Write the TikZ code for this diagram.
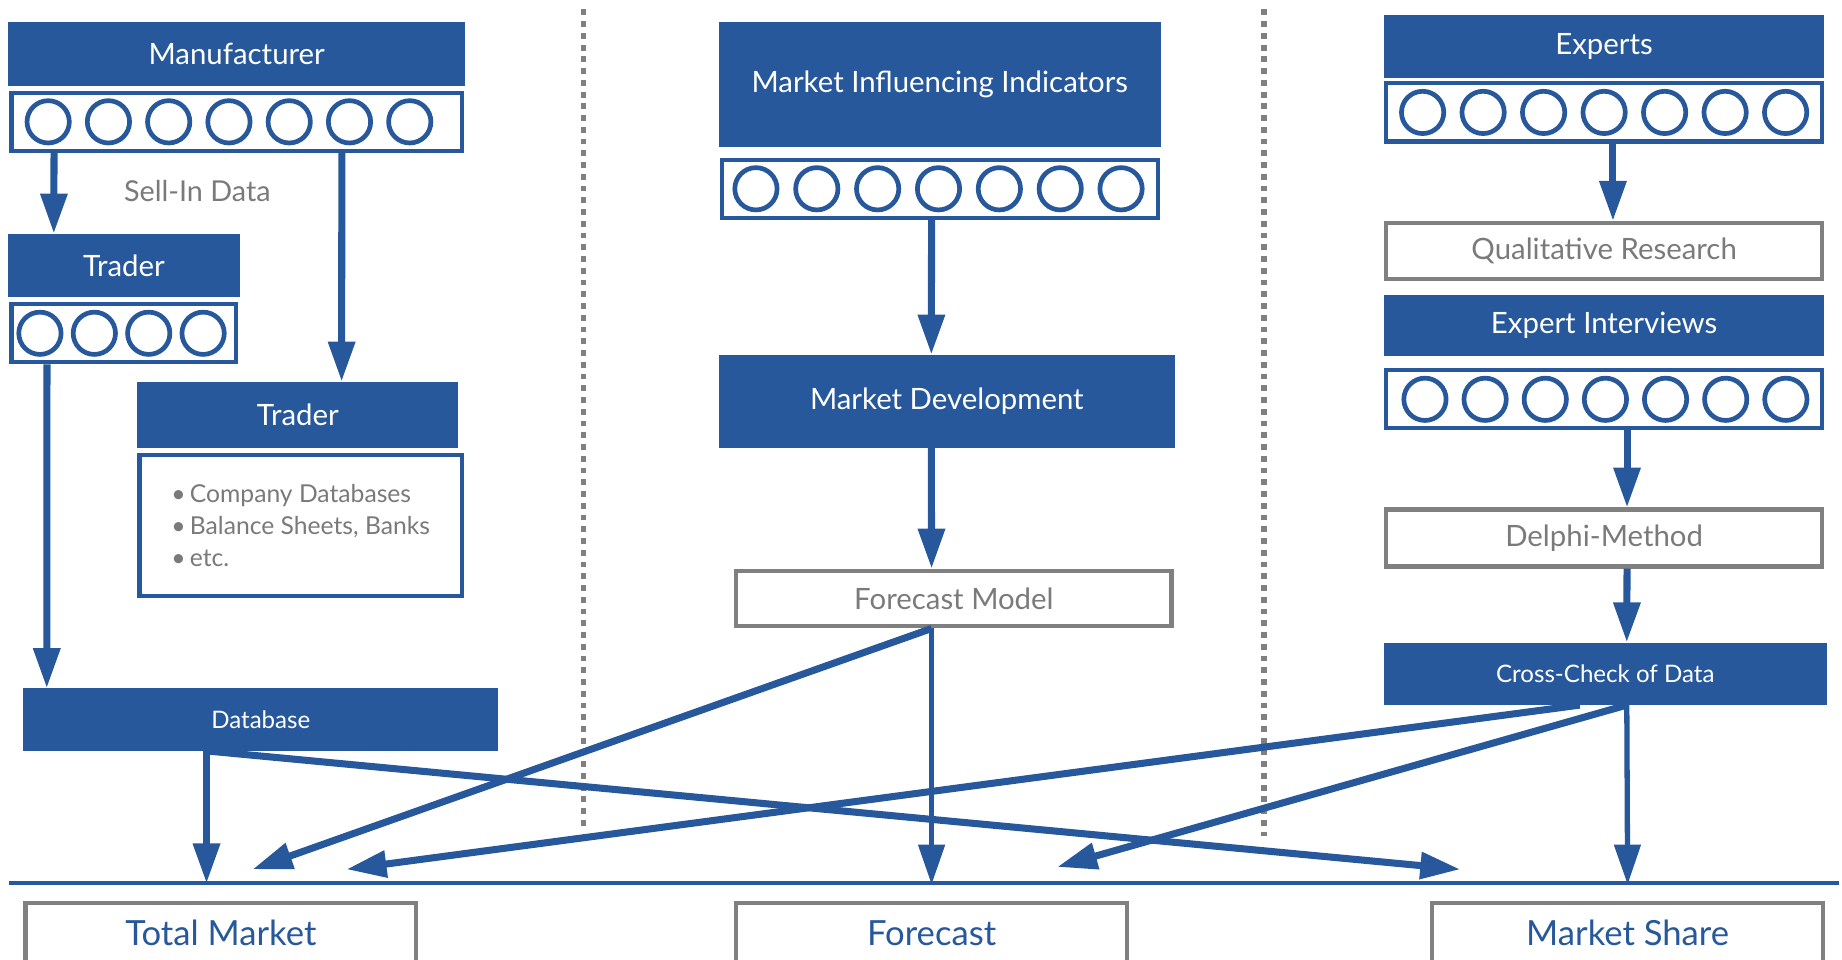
\documentclass[tikz,border=0pt]{standalone}
\usepackage{fontspec}
\setmainfont{Lato}
\usepackage{tikz}
\usetikzlibrary{arrows.meta,positioning}
\definecolor{marketblue}{HTML}{27589B}
\definecolor{framegray}{HTML}{808080}
\definecolor{textgray}{HTML}{7A7A7A}
\tikzstyle{headbox} = [rectangle, fill=marketblue, text=white, inner sep=0pt, font=\fontsize{25}{29}\selectfont]
\tikzstyle{smallhead} = [headbox, font=\fontsize{20.5}{24}\selectfont]
\tikzstyle{strip} = [rectangle, draw=marketblue, line width=3.5pt, fill=white, inner sep=0pt, minimum height=49.5pt]
\tikzstyle{greybox} = [rectangle, draw=framegray, line width=3.5pt, text=textgray, inner sep=0pt, font=\fontsize{25}{29}\selectfont]
\tikzstyle{resultbox} = [greybox, text=marketblue, font=\fontsize{29.5}{34}\selectfont, minimum width=332.5pt, minimum height=50.5pt]
\tikzstyle{ring} = [draw=marketblue, line width=4pt]
\tikzstyle{connector} = [draw=marketblue, line width=6pt, -{Triangle[length=34pt,width=22pt]}]
\tikzstyle{thinconnector} = [connector, line width=4.5pt]
\tikzstyle{divider} = [draw=framegray, line width=4.5pt, dash pattern=on 5pt off 5pt]

\begin{document}
\begin{tikzpicture}[x=1pt, y=-1pt]
        \useasboundingbox (0,0) rectangle (1568,816.4);
        \node (manufacturer) [headbox, minimum width=389pt, minimum height=54pt] at (201.5,46) {Manufacturer};
        \node (manu-strip) [strip, below=4pt of manufacturer, minimum width=383.5pt] {};
        \node (sell-in) [text=textgray, font=\fontsize{24.5}{28}\selectfont] at (168,163) {Sell-In Data};
        \node (trader-a) [headbox, minimum width=197pt, minimum height=54pt] at (105.5,226) {Trader};
        \node (trader-a-strip) [strip, below=4pt of trader-a, minimum width=191.5pt] {};
        \node (trader-b) [headbox, minimum width=273pt, minimum height=56pt] at (253.5,353) {Trader};
        \node (sources) [strip, below=4pt of trader-b, xshift=2.5pt, minimum width=274.5pt, minimum height=120.5pt, text=textgray, align=left, font=\fontsize{21}{27.5}\selectfont] {\textbullet\,Company Databases\\\textbullet\,Balance Sheets, Banks\\\textbullet\,etc.};
        \node (database) [smallhead, minimum width=404pt, minimum height=53pt] at (222,612.5) {Database};
        \node (indicators) [headbox, minimum width=376pt, minimum height=106pt] at (800,72) {Market Influencing Indicators};
        \node (ind-strip) [strip, below=9pt of indicators, minimum width=371.5pt] {};
        \node (development) [headbox, minimum width=388pt, minimum height=79pt] at (806,341.5) {Market Development};
        \node (model) [greybox, minimum width=370.5pt, minimum height=47.5pt] at (812,509.5) {Forecast Model};
        \node (experts) [headbox, minimum width=375pt, minimum height=53pt] at (1365.5,39.5) {Experts};
        \node (exp-strip) [strip, below=3pt of experts, minimum width=371.5pt] {};
        \node (research) [greybox, minimum width=371.5pt, minimum height=47.5pt] at (1365.5,213.5) {Qualitative Research};
        \node (interviews) [headbox, below=12pt of research, minimum width=375pt, minimum height=52pt] {Expert Interviews};
        \node (int-strip) [strip, below=10pt of interviews, minimum width=371.5pt] {};
        \node (delphi) [greybox, minimum width=371.5pt, minimum height=48.5pt] at (1365.5,458) {Delphi-Method};
        \node (crosscheck) [smallhead, minimum width=377pt, minimum height=53pt] at (1366.5,573.5) {Cross-Check of Data};
        \node (total) [resultbox] at (188,794) {Total Market};
        \node (forecast) [resultbox] at (793,794) {Forecast};
        \node (share) [resultbox] at (1385.5,794) {Market Share};
        \foreach \i in {0,...,6} \draw [ring] ([xshift={33pt+\i*51.3pt}]manu-strip.west) circle (18pt);
        \foreach \i in {0,...,3} \draw [ring] ([xshift={26pt+\i*46.3pt}]trader-a-strip.west) circle (18pt);
        \foreach \i in {0,...,6} \draw [ring] ([xshift={31pt+\i*51.8pt}]ind-strip.west) circle (18pt);
        \foreach \i in {0,...,6} \draw [ring] ([xshift={33pt+\i*51.5pt}]exp-strip.west) circle (18pt);
        \foreach \i in {0,...,6} \draw [ring] ([xshift={35pt+\i*51.2pt}]int-strip.west) circle (18pt);
        \coordinate (base-l) at (8,752);
        \coordinate (base-r) at (1565,752);
        \coordinate (db-out) at ([xshift=156pt]database.south west);
        \coordinate (model-out) at ([xshift=168pt]model.south west);
        \coordinate (cc-out) at ([xshift=207pt]crosscheck.south west);
        \coordinate (cc-out-b) at ([xshift=167pt]crosscheck.south west);
        \coordinate (tm-in-a) at (215,740);
        \coordinate (tm-in-b) at (295,740);
        \coordinate (fc-in) at (900,738);
        \coordinate (ms-in) at (1243,740);
        \draw [divider] (497,8) -- (497,705);
        \draw [divider] (1076,8) -- (1076,712);
        \draw [draw=marketblue, line width=3.5pt] (base-l) -- (base-r);
        \draw [connector] ([xshift=38pt]manu-strip.south west) -- ([xshift=39pt]trader-a.north west);
        \draw [connector] ([xshift=283pt]manu-strip.south west) -- ([xshift=174pt]trader-b.north west);
        \draw [connector] ([xshift=32pt]trader-a-strip.south west) -- ([xshift=20pt]database.north west);
        \draw [connector] (db-out) -- (db-out |- base-l);
        \draw [connector] (db-out) -- (ms-in);
        \draw [connector] ([xshift=180.5pt]ind-strip.south west) -- ([xshift=181pt]development.north west);
        \draw [connector] ([xshift=181pt]development.south west) -- ([xshift=168pt]model.north west);
        \draw [thinconnector] (model-out) -- ([yshift=14pt]forecast.north);
        \draw [connector] (model-out) -- (tm-in-a);
        \draw [connector] ([xshift=195pt]exp-strip.south west) -- ([xshift=195pt]research.north west);
        \draw [connector] ([xshift=207pt]int-strip.south west) -- ([xshift=207pt]delphi.north west);
        \draw [connector] ([xshift=207pt]delphi.south west) -- (cc-out |- crosscheck.north);
        \draw [thinconnector] (cc-out) -- ([yshift=14pt]share.north);
        \draw [connector] (cc-out) -- (fc-in);
        \draw [connector] (cc-out-b) -- (tm-in-b);
    \end{tikzpicture}
\end{document}
